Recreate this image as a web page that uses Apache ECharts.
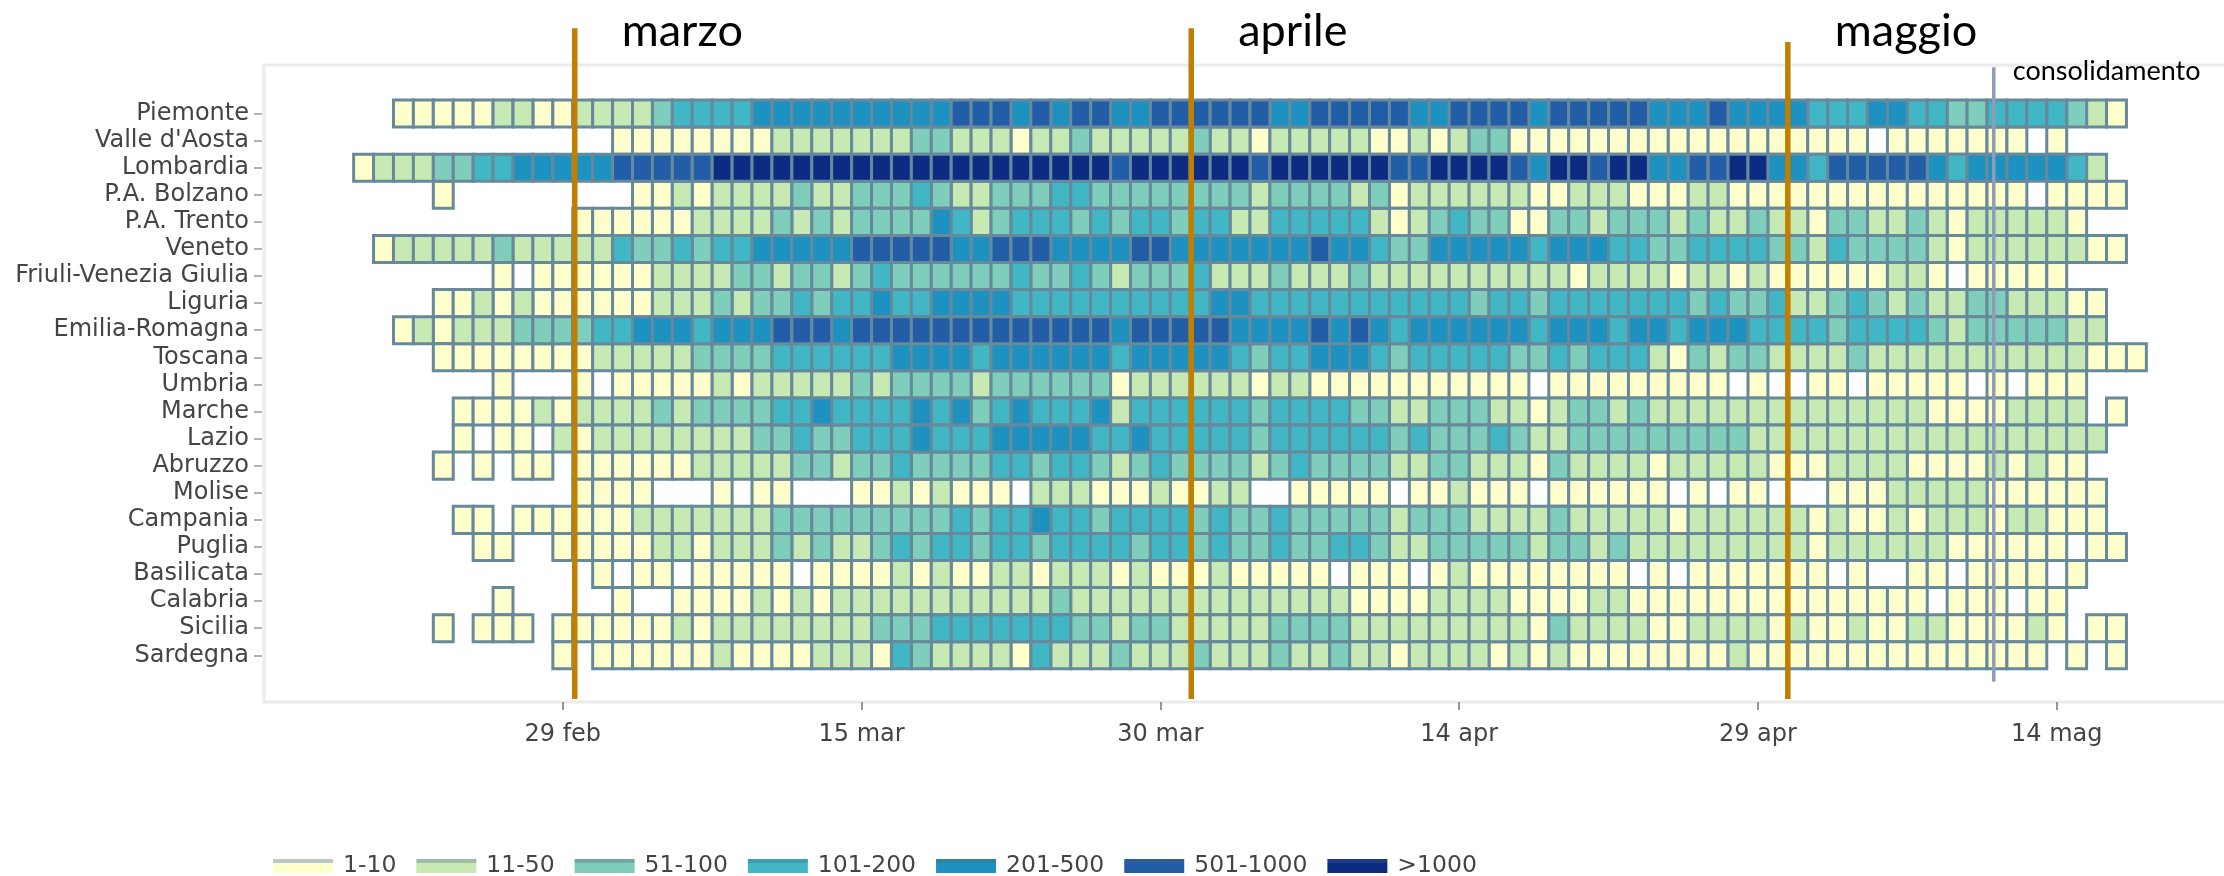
<!DOCTYPE html>
<html>
<head>
<meta charset="utf-8">
<style>
  html, body { margin: 0; padding: 0; background: #fff; }
  #chart { width: 2224px; height: 876px; }
</style>
<script src="https://cdn.jsdelivr.net/npm/echarts@6/dist/echarts.min.js"></script>
</head>
<body>
<div id="chart"></div>
<script>
var regions = ["Piemonte", "Valle d'Aosta", "Lombardia", "P.A. Bolzano", "P.A. Trento", "Veneto", "Friuli-Venezia Giulia", "Liguria", "Emilia-Romagna", "Toscana", "Umbria", "Marche", "Lazio", "Abruzzo", "Molise", "Campania", "Puglia", "Basilicata", "Calabria", "Sicilia", "Sardegna"];
var classLabels = ["1-10", "11-50", "51-100", "101-200", "201-500", "501-1000", ">1000"];
var classColors = ["#ffffcc", "#c7e9b4", "#7fcdbb", "#41b6c4", "#1d91c0", "#225ea8", "#0c2c84"];
var classBands = ["#b9c9c9", "#9dbda6", "#6fa9a6", "#3f9db0", "#2a83ab", "#2a5f9c", "#1c3a80"];

// giorni contati da 29 feb = 0
var firstDay = -10;
var tickDays = [0, 15, 30, 45, 60, 75];
var tickLabels = ["29 feb", "15 mar", "30 mar", "14 apr", "29 apr", "14 mag"];

// 0 = nessun caso, 1..7 = classe, una cifra per giorno dal 19 feb al 18 mag
var classRows = [
  "00111112211222234444 5555555555 666 5 6 5 66 55 666666 55 66666 55 66 6 6 5 66666 555 6 5555 444 55 44 33 4444 3 2 1 0",
  "0000000000000 1111111 1 2222222 33 222 1 22 3 22222 3 22 1 22222 11 2 1 2 3 3 111111111111111111 0 1111111 0 1 0000",
  "1 222 33 44 55555 66666 77 777777777777777777 6 777777 6 777777 66 777 7 6 5 77 6 77 55 66 77 55 4 66666 5 4 55555 4 2 00",
  "0000 1 000000000 11 2 1 22 22 3 22 333 4 3 22 333 44 33333333 2 3333 2 3 1 2222 22 11 222 111 22 111111111111111 0 1111 0",
  "00000000000 111111 222 2 3 2 3 2 3333 5 4 2 3 444 3 4 3 44 3 44 22 44444 2 1 2 3 4 3 3 11 33 2 333 2 3 22 3 22 1 33 22 3 2 1 22222 1 000",
  "0 1 22222 3 22222 4 33 4 3 44 55555 66666 55 666 5555 66 5555555 6 55 4 33 555 55 4 555 44 33 4444 33 2 4 3333 2 1 222222 11 0",
  "0000000 1 0 111111 2222 3 3 2 33 2 3 4 333333 4 33 4 3 2 333 4 222 3 222 3 222222 2222 1 2222 1 22 1 2 111111 22 1 0 11111 0000",
  "0000 11 2 1 2 111111 222 3 2 33 4 3 44 5 44 5555 4444444444 55 44444444444 3 44 3 4444444 3 4 33 4 22 3 4 3 2 3 22 33 222 11 00",
  "00 1 2 1 222 3333 44 555 4 55 5 666 5 6666666666666 5 66666 5555 6 5 6 5 4 5555 55 4 555 4 55 4 555 4444 3 4444 3 2 33333 22 00",
  "0000 11111111 22222 333 3 444444 5555 4 555555 4 55555 4 3 44 555 4 3 4444 4 33 4 3 444 2 1 3 2 33 2222 3 22222222222 111",
  "0000000 1 000 1 0 11111 2 1 22222 3 2 3333 2 333333 1 222222 1 22 111111111 11 0 111111111 0 1 00 11 0 11111 0 1 0 111 000",
  "00000 1111 2 1 2222 3 2 333 3 44 5 4444 5 4 5 3 4 5 444 5 2 444444 3 4444 33 22 333 22 1 2 33 2 3 22222222222222 1111 2222 0 1 0",
  "00000 1 0 11 0 2 1 22222222 33 4 33 444 5 444 55555 44 5 44444 3 444444 3 4 333 4 3 22 333333333 222222222222222222 00",
  "0000 1 0 1 0 11 0 111111 222 22 33 2 33 4 3333 44 3 44 3 2 3 4 3333 2 3 4 3333 22 33 2 22 1 3 2222 1 22222 111 2222 1111 2 1 2 11 000",
  "00000000000 1111 000 1 0 11 000 11 2 1 2 111 0 222 111 2 11 22 00 11111 0 11 2 1 11 0 111111 0 1 0 11 000 111 22222 111111 00",
  "00000 11 0 111111 222222 2 333333333 4 3 44 5 44 3 4444 3 4 33 4 33333 2 333 2 222 3 22222 1 222222 1 2 11 2 1 222 1 22 111 00",
  "000000 11 00 11111 22 1 22 2 3 2 3 22 3 4 3 44 3 44 3 4444 3 44 3 4 33 4 33 44 3 22 333 33 2 33 2 3 222222222 1 222222 111111 0 11 0",
  "000000000000 1 0 11 0 111 11 0 1111 2 1 2 11 22 1 222 1 2 111 2 11111 0 111 0 1 2 1 1111111 0 1 0 1111111 0 1 00 11 0 1111 0 1 000",
  "0000000 1 00000 1 00 1111 2 1 2 1 22222222222 3 22222222222222 1111 222 2 1111 22 111111111111111 0 111 0 11 0000",
  "0000 1 0 111 0 111111 2 1 22 222222 333 4444444 33 2 33 22222 3333 2222222 22 1 3 2222 11 2222 1 2 11 2 11 22 1111 2 1 0 11 0",
  "0000000000 1 0 111111 2 1 111 222 1 4 3 2222 1 4 222 3 222 3 222 3 22 3 22 1 2222 1 2 1 2 11111111 2 111111111111111 0 1 0 1 0"
];

// linee verticali: giorno, riga alta, riga bassa, etichetta
var lineDays = [0.6, 31.55, 61.5, 71.84];
var lineTops = [-3.15, -3.15, -2.64, -1.71];
var lineBottoms = [21.61, 21.61, 21.61, 20.98];
var lineNames = ["marzo", "aprile", "maggio", "consolidamento"];

var chart = echarts.init(document.getElementById("chart"));

function cellSeries(classIndex) {
  var points = [];
  classRows.forEach(function (row, rowIndex) {
    row.replace(/ /g, "").split("").forEach(function (c, i) {
      if (Number(c) === classIndex + 1) {
        points.push([firstDay + i, rowIndex]);
      }
    });
  });
  return {
    type: "custom",
    name: classLabels[classIndex],
    coordinateSystem: "cartesian2d",
    encode: { x: 0, y: 1 },
    itemStyle: { color: classColors[classIndex] },
    data: points,
    silent: true,
    renderItem: function (params, api) {
      var a = api.coord([api.value(0) - 0.5, api.value(1) - 0.5]);
      var b = api.coord([api.value(0) + 0.5, api.value(1) + 0.5]);
      return {
        type: "rect",
        shape: { x: a[0], y: a[1], width: b[0] - a[0], height: b[1] - a[1] },
        style: { fill: classColors[classIndex], stroke: "#67899c", lineWidth: 3 }
      };
    }
  };
}

var lineSeries = {
  type: "custom",
  name: "linee",
  coordinateSystem: "cartesian2d",
  encode: { x: 0, y: [1, 2] },
  silent: true,
  z: 10,
  clip: false,
  data: lineDays.map(function (d, i) {
    return [d, lineTops[i], lineBottoms[i]];
  }),
  renderItem: function (params, api) {
    var i = params.dataIndex;
    var top = api.coord([api.value(0), api.value(1)]);
    var bottom = api.coord([api.value(0), api.value(2)]);
    var small = i === 3;
    return {
      type: "group",
      children: [
        {
          type: "line",
          shape: { x1: top[0], y1: top[1], x2: bottom[0], y2: bottom[1] },
          style: { stroke: small ? "#8e9db8" : "#c07f00", lineWidth: small ? 3.5 : 5.5 }
        },
        {
          type: "text",
          style: {
            x: top[0] + (small ? 19 : 47),
            y: small ? 71 : 31,
            text: lineNames[i],
            fill: "#000",
            font: (small ? 27 : 45) + "px Lato",
            textVerticalAlign: "middle"
          }
        }
      ]
    };
  }
};

var series = classLabels.map(function (l, i) { return cellSeries(i); });
series.push(lineSeries);

chart.setOption({
  animation: false,
  backgroundColor: "#fff",
  grid: {
    show: true,
    left: 264,
    top: 65,
    width: 1972,
    height: 637,
    outerBoundsMode: "none",
    backgroundColor: "transparent",
    borderColor: "#ebebeb",
    borderWidth: 3
  },
  legend: {
    left: 273,
    top: 854,
    padding: 0,
    itemWidth: 60,
    itemHeight: 14,
    itemGap: 20,
    selectedMode: false,
    textStyle: { color: "#444", fontFamily: "DejaVu Sans", fontSize: 23.5, padding: [0, 0, 0, 5] },
    data: classLabels.map(function (l, i) {
      return {
        name: l,
        icon: "rect",
        itemStyle: {
          borderWidth: 0,
          color: new echarts.graphic.LinearGradient(0, 0, 0, 1, [
            { offset: 0, color: classBands[i] },
            { offset: 0.25, color: classBands[i] },
            { offset: 0.25, color: classColors[i] },
            { offset: 1, color: classColors[i] }
          ])
        }
      };
    })
  },
  xAxis: {
    type: "value",
    min: -15,
    max: 84,
    splitLine: { show: false },
    axisLine: { show: false, onZero: false },
    axisTick: { show: true, length: 8, customValues: tickDays, lineStyle: { color: "#777", width: 1.5 } },
    axisLabel: {
      customValues: tickDays,
      margin: 21,
      color: "#444",
      fontFamily: "DejaVu Sans",
      fontSize: 24,
      formatter: function (v) { return tickLabels[tickDays.indexOf(v)]; }
    }
  },
  yAxis: {
    type: "value",
    inverse: true,
    min: -1.79,
    max: 21.724,
    offset: 2,
    splitLine: { show: false },
    axisLine: { show: false, onZero: false },
    axisTick: { show: true, length: 8, customValues: regions.map(function (r, i) { return i; }), lineStyle: { color: "#999", width: 1.5 } },
    axisLabel: {
      customValues: regions.map(function (r, i) { return i; }),
      margin: 13,
      padding: [5, 0, 0, 0],
      color: "#444",
      fontFamily: "DejaVu Sans",
      fontSize: 24,
      formatter: function (v) { return regions[v]; }
    }
  },
  series: series
});
</script>
</body>
</html>
